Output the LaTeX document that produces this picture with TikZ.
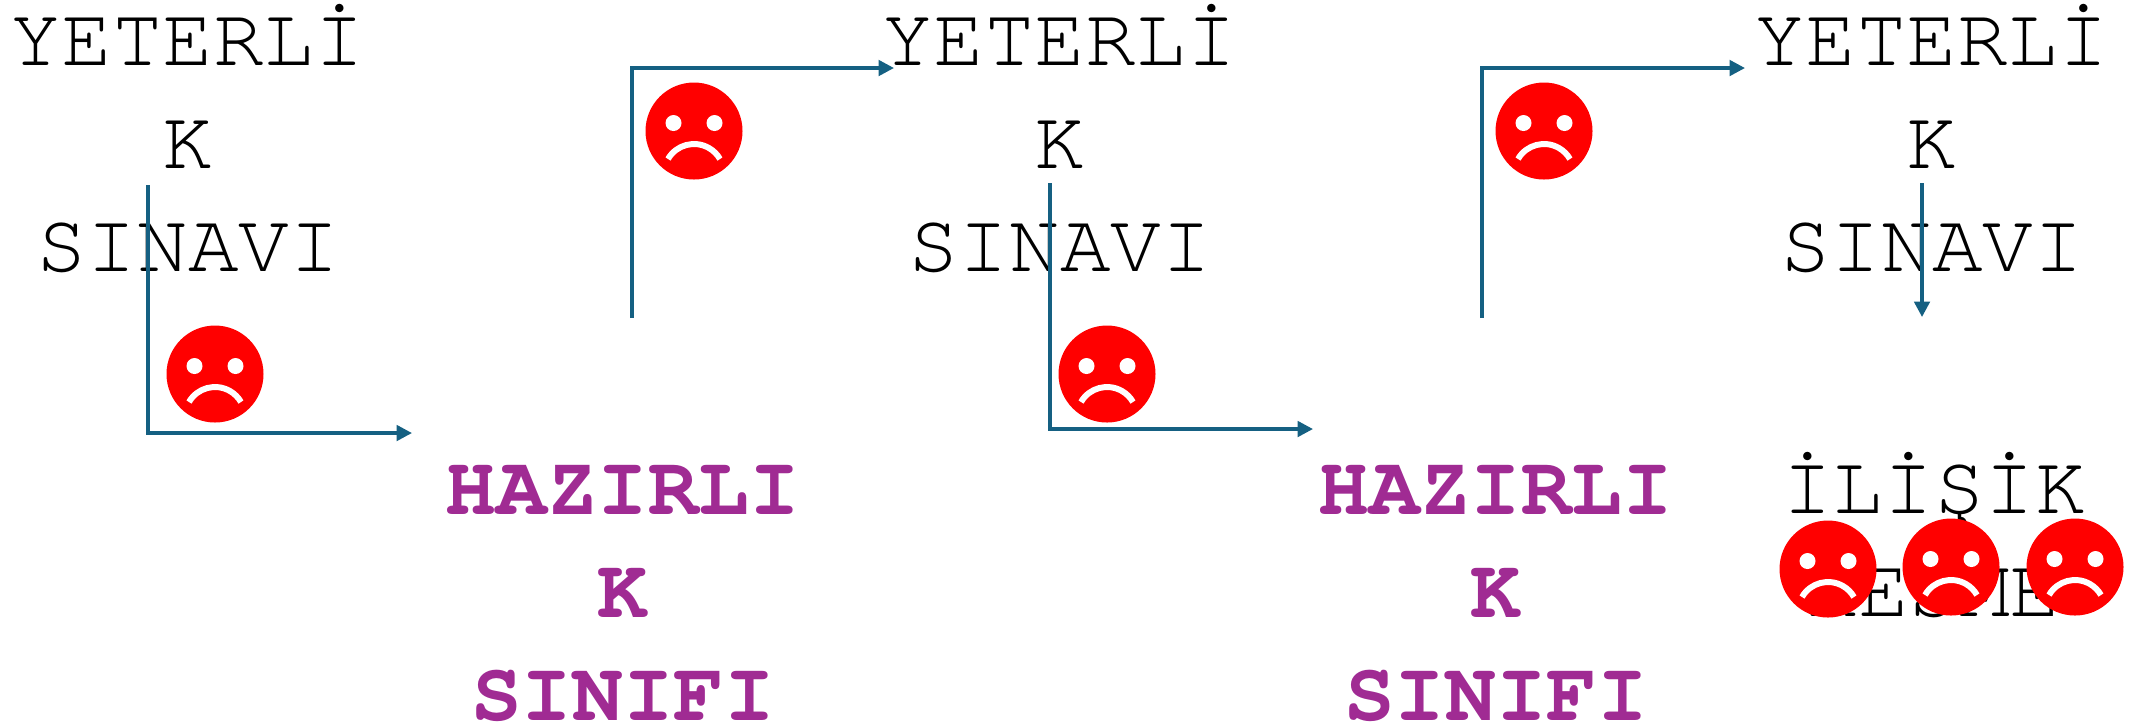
\documentclass[tikz,border=0pt]{standalone}
\usepackage{fontspec}
\setmonofont{texgyrecursor-regular.otf}[BoldFont=texgyrecursor-bold.otf]
\usetikzlibrary{arrows.meta,positioning}
\definecolor{flowblue}{RGB}{21,96,130}
\definecolor{prepurple}{RGB}{160,43,147}
\definecolor{sadred}{RGB}{255,0,0}
\tikzset{
	>={Triangle[length=4.4pt,width=4.4pt]},
	flow/.style={draw=flowblue,line width=1pt},
	exam/.style={anchor=north,align=center,inner sep=0pt,font=\ttfamily\fontsize{24}{29.3}\selectfont},
	prep/.style={exam,text=prepurple,font=\ttfamily\bfseries\fontsize{24}{29.3}\selectfont},
	sad/.pic={
		\fill[sadred] (0,0) circle (0.485);
		\fill[white] (-0.205,0.08) circle (0.08) (0.205,0.08) circle (0.08);
		\draw[white,line width=1.7pt] (-0.26,-0.28) arc[start angle=150,end angle=30,radius=0.30];
	}
}

\begin{document}
\begin{tikzpicture}
			\useasboundingbox (0,0) rectangle (21.51,-7.26);
			\node[exam] (yk1) at (1.88,-0.04) {YETERLİ\\K\\SINAVI};
			\node[exam] (yk2) at (10.60,-0.04) {YETERLİ\\K\\SINAVI};
			\node[exam] (yk3) at (19.32,-0.04) {YETERLİ\\K\\SINAVI};
			\node[prep] (hs1) at (6.23,-4.65) {HAZIRLI\\K\\SINIFI};
			\node[prep] (hs2) at (14.96,-4.65) {HAZIRLI\\K\\SINIFI};
			\node[exam] (ik) at (19.34,-4.52) {İLİŞİK\\KESME};
			% fail paths
			\coordinate (s1) at (1.48,-1.85);
			\coordinate (c1) at (1.48,-4.33);
			\coordinate (e1) at (4.12,-4.33);
			\coordinate (s2) at (6.32,-3.18);
			\coordinate (c2) at (6.32,-0.68);
			\coordinate (e2) at (8.94,-0.68);
			\coordinate (s3) at (10.50,-1.83);
			\coordinate (c3) at (10.50,-4.29);
			\coordinate (e3) at (13.13,-4.29);
			\coordinate (s4) at (14.82,-3.18);
			\coordinate (c4) at (14.82,-0.68);
			\coordinate (e4) at (17.45,-0.68);
			\coordinate (s5) at (19.22,-1.83);
			\coordinate (e5) at (19.22,-3.17);
			\draw[flow,->] (s1) -- (c1) -- (e1);
			\draw[flow,->] (s2) -- (c2) -- (e2);
			\draw[flow,->] (s3) -- (c3) -- (e3);
			\draw[flow,->] (s4) -- (c4) -- (e4);
			\draw[flow,->] (s5) -- (e5);
			\pic at (2.15,-3.74) {sad};
			\pic at (6.94,-1.31) {sad};
			\pic at (11.07,-3.74) {sad};
			\pic at (15.44,-1.31) {sad};
			\pic at (18.28,-5.69) {sad};
			\pic at (19.51,-5.67) {sad};
			\pic at (20.75,-5.67) {sad};
		\end{tikzpicture}
\end{document}
